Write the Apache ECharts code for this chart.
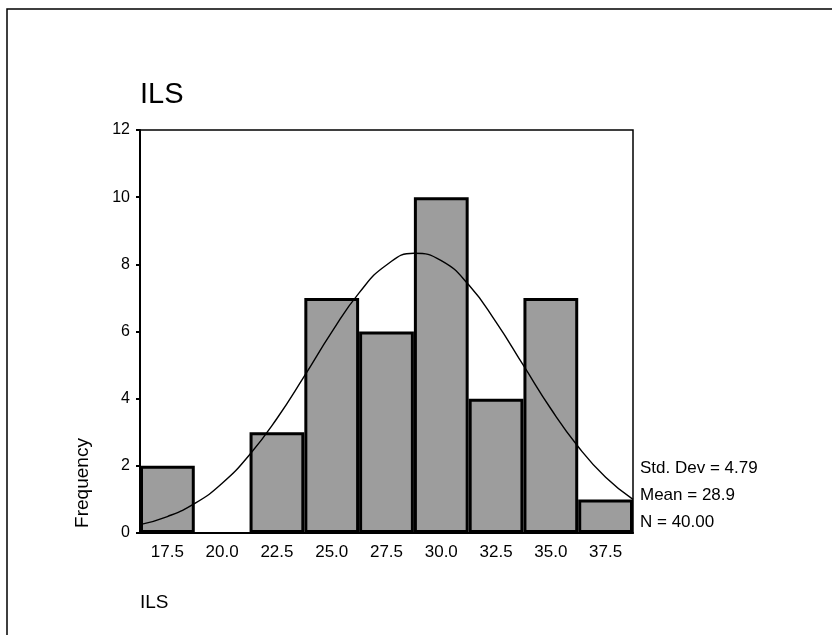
<!DOCTYPE html>
<html>
<head>
<meta charset="utf-8">
<script src="https://cdn.jsdelivr.net/npm/echarts@6/dist/echarts.min.js"></script>
<style>
  html, body { margin: 0; padding: 0; background: #fff; }
  #chart { width: 832px; height: 635px; }
</style>
</head>
<body>
<div id="chart"></div>
<script>
// 分组中心和频数
const binLabels = ['17.5', '20.0', '22.5', '25.0', '27.5', '30.0', '32.5', '35.0', '37.5'];
const frequency = [2, 0, 3, 7, 6, 10, 4, 7, 1];
// 正态曲线，从图上读出的点
const curveX = [16.25, 17.5, 18.75, 20, 21.25, 22.5, 23.75, 25, 26.25, 27.5, 28.75, 30, 31.25, 32.5, 33.75, 35, 36.25, 37.5, 38.75];
const curveY = [0.25, 0.49, 0.88, 1.48, 2.33, 3.41, 4.67, 5.98, 7.15, 7.98, 8.33, 8.11, 7.39, 6.28, 4.99, 3.70, 2.57, 1.66, 1.0];
const statLines = ['Std. Dev = 4.79', 'Mean = 28.9', 'N = 40.00'];

const font = 'Arial, "Liberation Sans", sans-serif';
let chart = echarts.init(document.getElementById('chart'));

let option = {
  animation: false,
  backgroundColor: '#fff',
  grid: {
    left: 140,
    right: 199,
    top: 130,
    bottom: 102,
    show: true,
    borderColor: '#000',
    borderWidth: 1.5
  },
  xAxis: [
    {
      type: 'category',
      data: binLabels,
      boundaryGap: true,
      axisLine: { lineStyle: { color: '#000', width: 2 } },
      axisTick: { alignWithLabel: true, length: 4, lineStyle: { color: '#000', width: 2 } },
      axisLabel: { color: '#000', fontSize: 17, fontFamily: font, margin: 11 },
      splitLine: { show: false }
    },
    {
      type: 'value',
      min: 16.25,
      max: 38.75,
      show: false
    }
  ],
  yAxis: {
    type: 'value',
    min: 0,
    max: 12,
    interval: 2,
    axisLine: { show: true, lineStyle: { color: '#000', width: 2 } },
    axisTick: { show: true, length: 4, lineStyle: { color: '#000', width: 2 } },
    axisLabel: { color: '#000', fontSize: 16, fontFamily: font, margin: 10 },
    splitLine: { show: false }
  },
  series: [
    {
      type: 'bar',
      // 频数为0的组不画框
      data: frequency.map(v => (v === 0 ? '-' : v)),
      barWidth: '100%',
      itemStyle: {
        color: '#9d9d9d',
        borderColor: '#000',
        borderWidth: 3
      },
      z: 2
    },
    {
      type: 'line',
      xAxisIndex: 1,
      data: curveX.map((x, i) => [x, curveY[i]]),
      smooth: true,
      showSymbol: false,
      lineStyle: { color: '#000', width: 1.4 },
      z: 5
    }
  ],
  graphic: [
    // 外框
    {
      type: 'rect',
      shape: { x: 7, y: 9, width: 840, height: 650 },
      style: { fill: 'none', stroke: '#000', lineWidth: 1.5 }
    },
    {
      type: 'text',
      x: 140, y: 95,
      style: { text: 'ILS', font: '29px ' + font, fill: '#000', textVerticalAlign: 'middle' }
    },
    {
      type: 'text',
      x: 83, y: 483,
      rotation: Math.PI / 2,
      style: { text: 'Frequency', font: '19px ' + font, fill: '#000', textAlign: 'center', textVerticalAlign: 'middle' }
    },
    {
      type: 'text',
      x: 140, y: 603,
      style: { text: 'ILS', font: '19px ' + font, fill: '#000', textVerticalAlign: 'middle' }
    }
  ].concat(statLines.map((s, i) => ({
    type: 'text',
    x: 640, y: 468 + i * 27,
    style: { text: s, font: '17px ' + font, fill: '#000', textVerticalAlign: 'middle' }
  })))
};
chart.setOption(option);
</script>
</body>
</html>
